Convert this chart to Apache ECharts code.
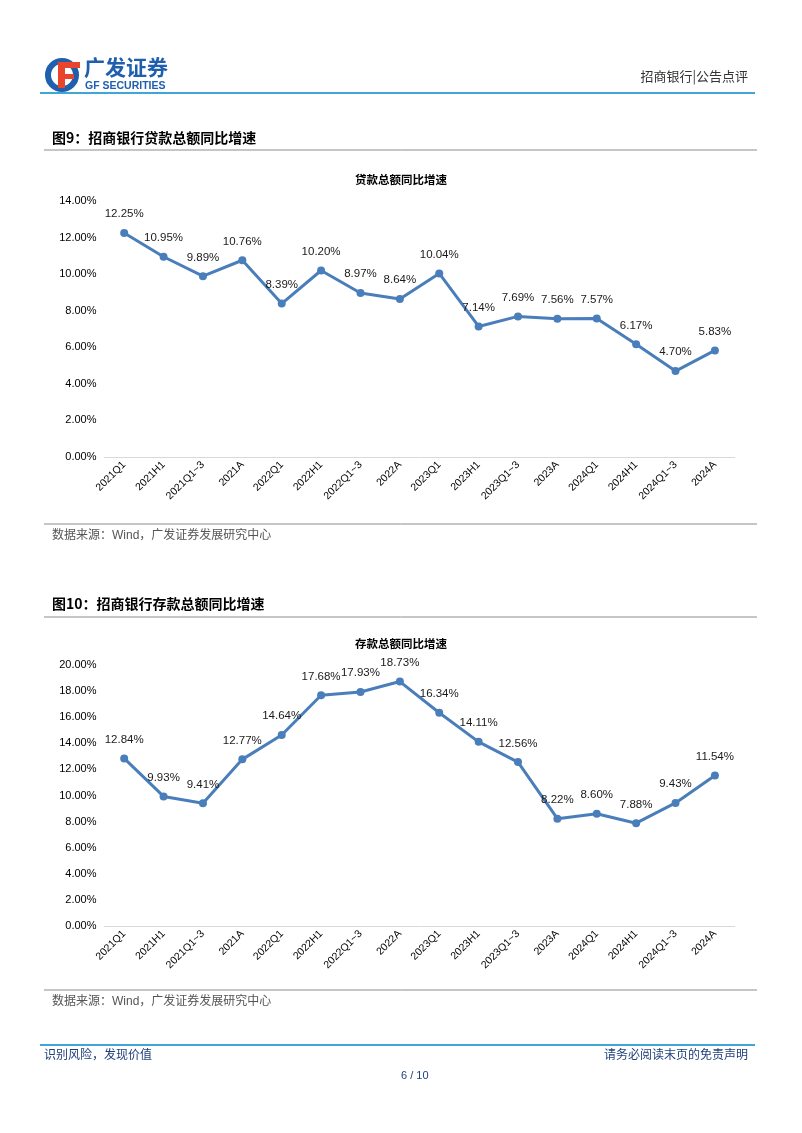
<!DOCTYPE html>
<html><head><meta charset="utf-8">
<script src="https://cdn.jsdelivr.net/npm/echarts@6/dist/echarts.min.js"></script>
<style>html,body{margin:0;padding:0;background:#fff}#c{width:802px;height:1133px}</style>
</head><body><div id="c"></div>
<script>
const categories = ['2021Q1','2021H1','2021Q1~3','2021A','2022Q1','2022H1','2022Q1~3','2022A','2023Q1','2023H1','2023Q1~3','2023A','2024Q1','2024H1','2024Q1~3','2024A'];
const loanGrowth = [12.25,10.95,9.89,10.76,8.39,10.20,8.97,8.64,10.04,7.14,7.69,7.56,7.57,6.17,4.70,5.83];
const depositGrowth = [12.84,9.93,9.41,12.77,14.64,17.68,17.93,18.73,16.34,14.11,12.56,8.22,8.60,7.88,9.43,11.54];

const FONT = '"Liberation Sans", Arial, "Noto Sans CJK SC", sans-serif';
const CJK = '"Noto Sans CJK SC", sans-serif';
const LINE = '#4a7ebb';
const chart = echarts.init(document.getElementById('c'), null, {renderer:'canvas'});

function xAxis(gi){
  return {type:'category', gridIndex:gi, data:categories, boundaryGap:true,
    axisLine:{lineStyle:{color:'#d9d9d9', width:1}}, axisTick:{show:false},
    axisLabel:{rotate:45, fontSize:10.5, color:'#000', fontFamily:FONT, margin:6, interval:0}};
}
function yAxis(gi,max){
  return {type:'value', gridIndex:gi, min:0, max:max, interval:2,
    axisLine:{show:false}, axisTick:{show:false}, splitLine:{show:false},
    axisLabel:{fontSize:11, color:'#000', fontFamily:FONT, margin:8, formatter:v=>v.toFixed(2)+'%'}};
}
function series(gi,data){
  return {type:'line', xAxisIndex:gi, yAxisIndex:gi, data:data, symbol:'circle', symbolSize:8,
    lineStyle:{color:LINE, width:3}, itemStyle:{color:LINE},
    label:{show:true, position:'top', distance:9, fontSize:11.5, color:'#1a1a1a', fontFamily:FONT, formatter:p=>p.value.toFixed(2)+'%'}};
}

const g = [];
// Logo
g.push({type:'circle', shape:{cx:62,cy:75,r:14}, style:{fill:'none', stroke:'#1f5fae', lineWidth:6}});
g.push({type:'rect', shape:{x:58,y:62,width:22,height:6}, style:{fill:'#e8452c'}});
g.push({type:'rect', shape:{x:58,y:62,width:7,height:26}, style:{fill:'#e8452c'}});
g.push({type:'rect', shape:{x:58,y:74,width:16,height:5}, style:{fill:'#e8452c'}});
g.push({type:'text', left:84, top:57, style:{text:'广发证券', font:'bold 21px '+CJK, fill:'#1f5fae'}});
g.push({type:'text', left:85, top:81, style:{text:'GF SECURITIES', font:'bold 10.5px '+FONT, fill:'#1f5fae'}});
g.push({type:'text', right:54, top:70, style:{text:'招商银行|公告点评', font:'13px '+CJK, fill:'#333'}});
g.push({type:'line', shape:{x1:40,y1:93,x2:755,y2:93}, style:{stroke:'#3fa6d6', lineWidth:2}});
// Section 1
g.push({type:'text', left:52, top:131, style:{text:'图9：招商银行贷款总额同比增速', font:'bold 14px '+CJK, fill:'#000'}});
g.push({type:'line', shape:{x1:44,y1:150,x2:757,y2:150}, style:{stroke:'#8c8c8c', lineWidth:1}});
g.push({type:'line', shape:{x1:44,y1:524,x2:757,y2:524}, style:{stroke:'#8c8c8c', lineWidth:1}});
g.push({type:'text', left:52, top:530, style:{text:'数据来源：Wind，广发证券发展研究中心', font:'12px '+FONT, fill:'#555'}});
// Section 2
g.push({type:'text', left:52, top:597, style:{text:'图10：招商银行存款总额同比增速', font:'bold 14px '+CJK, fill:'#000'}});
g.push({type:'line', shape:{x1:44,y1:617,x2:757,y2:617}, style:{stroke:'#8c8c8c', lineWidth:1}});
g.push({type:'line', shape:{x1:44,y1:990,x2:757,y2:990}, style:{stroke:'#8c8c8c', lineWidth:1}});
g.push({type:'text', left:52, top:996, style:{text:'数据来源：Wind，广发证券发展研究中心', font:'12px '+FONT, fill:'#555'}});
// Footer
g.push({type:'line', shape:{x1:40,y1:1045,x2:755,y2:1045}, style:{stroke:'#3fa6d6', lineWidth:2}});
g.push({type:'text', left:44, top:1048, style:{text:'识别风险，发现价值', font:'12px '+CJK, fill:'#1f3f7a'}});
g.push({type:'text', right:54, top:1048, style:{text:'请务必阅读末页的免责声明', font:'12px '+CJK, fill:'#1f3f7a'}});
g.push({type:'text', left:401, top:1070, style:{text:'6 / 10', font:'11px '+FONT, fill:'#1f3f7a', textAlign:'center'}});

chart.setOption({
  animation:false,
  title:[
    {text:'贷款总额同比增速', left:'center', top:169, textStyle:{fontSize:11.5, fontWeight:'bold', color:'#000', fontFamily:CJK}},
    {text:'存款总额同比增速', left:'center', top:633, textStyle:{fontSize:11.5, fontWeight:'bold', color:'#000', fontFamily:CJK}}
  ],
  grid:[
    {left:104.5, right:67.4, top:201, height:256, containLabel:false},
    {left:104.5, right:67.4, top:665, height:261, containLabel:false}
  ],
  xAxis:[xAxis(0), xAxis(1)],
  yAxis:[yAxis(0,14), yAxis(1,20)],
  series:[series(0,loanGrowth), series(1,depositGrowth)],
  graphic:g
});
</script></body></html>
